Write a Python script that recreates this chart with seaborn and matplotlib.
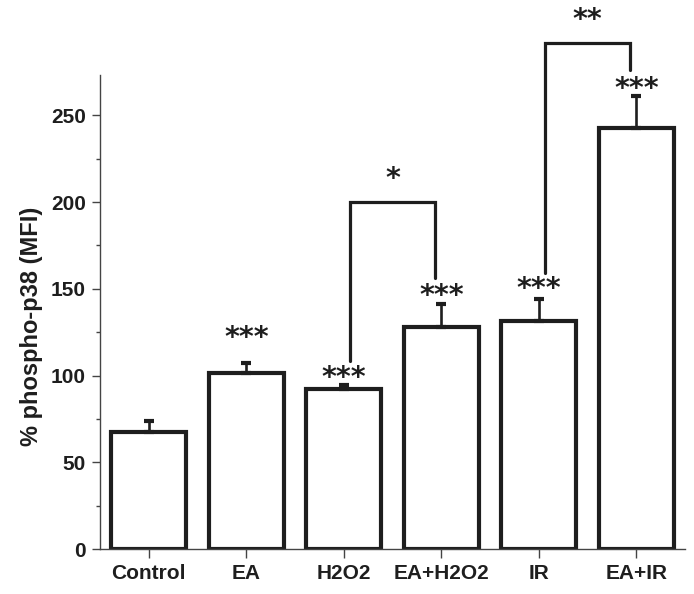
import numpy as np
import pandas as pd
import matplotlib
matplotlib.use("Agg")
import matplotlib.pyplot as plt
from matplotlib.ticker import MultipleLocator
import seaborn as sns

# --- data ---
groups = ["Control", "EA", "H2O2", "EA+H2O2", "IR", "EA+IR"]
means = [67.8, 101.3, 92.5, 128.3, 131.5, 242.8]
errors = [6.2, 6.2, 1.9, 12.9, 12.8, 18.0]
stars = ["", "***", "***", "***", "***", "***"]

# pairwise comparisons: (left group, right group, label)
comparisons = [("H2O2", "EA+H2O2", "*"), ("IR", "EA+IR", "**")]

INK = "#1e1e1e"

sns.set_style("ticks")
plt.rcParams["font.family"] = ["Liberation Sans", "DejaVu Sans"]

df = pd.DataFrame({"group": groups, "mfi": means, "err": errors})

fig = plt.figure(figsize=(6.94, 5.94), dpi=100)
ax = fig.add_axes([0.1441, 0.0753, 0.843, 0.798])

sns.barplot(data=df, x="group", y="mfi", order=groups, color="white",
            edgecolor=INK, linewidth=3.0, width=0.77, saturation=1,
            errorbar=None, ax=ax)

# upper-only error bars
xpos = np.arange(len(groups))
ax.errorbar(xpos, df["mfi"], yerr=[np.zeros(len(groups)), df["err"]],
            fmt="none", ecolor=INK, elinewidth=1.9, capsize=3.6, capthick=3,
            zorder=3)

# significance stars over each bar
star_font = dict(fontsize=20.5, family="DejaVu Sans", fontweight="bold",
                 color=INK)
tops = df["mfi"] + df["err"]
pad = [0, 6.0, -4.0, -3.5, -2.5, -4.0]
for i, s in enumerate(stars):
    if s:
        ax.text(xpos[i], tops[i] + pad[i], s, ha="center", va="bottom",
                **star_font)

# comparison brackets
bracket_y = [200, 291.5]
leg_bottoms = [(108.5, 156), (159, 276)]
for (a, b, lab), yb, (la, lb) in zip(comparisons, bracket_y, leg_bottoms):
    xa = groups.index(a) + 0.06
    xb = groups.index(b) - 0.06
    ax.plot([xa, xa, xb, xb], [la, yb, yb, lb], color=INK, lw=2.3,
            solid_joinstyle="miter", clip_on=False, zorder=4)
    ax.text((xa + xb) / 2, yb + 5.0, lab, ha="center", va="bottom",
            clip_on=False, **star_font)

ax.set_xlim(-0.5, 5.5)
ax.set_ylim(0, 273)
ax.yaxis.set_major_locator(MultipleLocator(50))
ax.yaxis.set_minor_locator(MultipleLocator(25))

ax.set_xlabel("")
ax.set_ylabel("% phospho-p38 (MFI)", fontsize=17, fontweight="bold",
              color=INK)
ax.yaxis.set_label_coords(-0.097, 0.47)

for lab in ax.get_xticklabels() + ax.get_yticklabels():
    lab.set_fontweight("bold")
ax.tick_params(axis="x", which="major", length=6.5, width=1, pad=4,
               labelsize=15, colors="#444444", labelcolor=INK)
ax.tick_params(axis="y", which="major", length=5.5, width=1, pad=4.5,
               labelsize=15, colors="#444444", labelcolor=INK)
ax.tick_params(axis="y", which="minor", length=3.1, width=1,
               colors="#444444")

sns.despine(ax=ax)
for side in ("left", "bottom"):
    ax.spines[side].set_color("#444444")
    ax.spines[side].set_linewidth(1.0)

fig.savefig("out.png", dpi=100)
